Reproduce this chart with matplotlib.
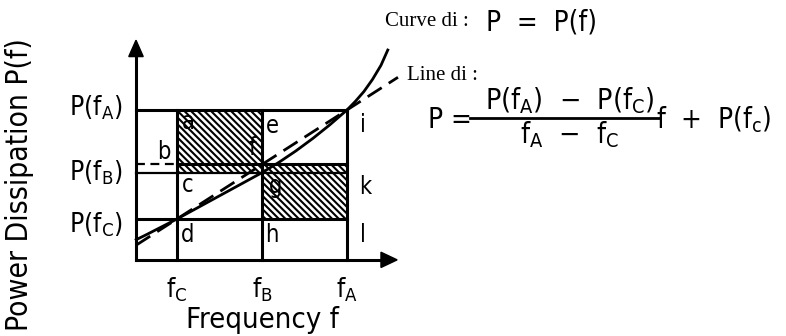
import matplotlib
matplotlib.use("Agg")
import matplotlib.pyplot as plt
from matplotlib.patches import Rectangle, Polygon
from matplotlib.lines import Line2D

# ---- data (diagram units) ----
freq_names = ["C", "B", "A"]
freq_pos = [1.0, 2.0, 3.0]           # fC, fB, fA
power_names = ["C", "B", "A"]
power_pos = [1.0, 1.85, 3.0]         # P(fC), P(fB), P(fA)
line_at_fB = 2.0                      # value of line di at fB
curve_f = [0.52, 0.65, 0.8, 1.0, 1.2, 1.4, 1.6, 1.8, 2.0, 2.2, 2.4, 2.6, 2.8, 3.0,
           3.1, 3.2, 3.3, 3.4, 3.48]
curve_p = [0.62, 0.72, 0.84, 1.0, 1.17, 1.34, 1.51, 1.68, 1.85, 2.04, 2.25, 2.48, 2.73,
           3.0, 3.16, 3.34, 3.56, 3.82, 4.10]
line_f = [0.52, 3.6]
line_p = [0.52, 3.6]
region_letters = ["a", "b", "c", "d", "e", "f", "g", "h", "i", "k", "l"]
letter_f = [1.13, 0.84, 1.13, 1.13, 2.12, 1.89, 2.16, 2.12, 3.19, 3.21, 3.19]
letter_p = [2.78, 2.23, 1.62, 0.71, 2.71, 2.30, 1.60, 0.71, 2.72, 1.59, 0.71]

W, H = 786, 336
SANS = ["DejaVu Sans"]
SERIF = ["Liberation Serif", "DejaVu Serif"]
ST = "condensed"
plt.rcParams["mathtext.fontset"] = "custom"
plt.rcParams["hatch.linewidth"] = 1.5

fig = plt.figure(figsize=(W / 100, H / 100), dpi=100)
ax = fig.add_axes([0, 0, 1, 1])
ax.set_xlim(-1.082, 8.165)
ax.set_ylim(-1.147, 5.018)
ax.axis("off")

x0, y0 = 0.518, 0.25
fC, fB, fA = freq_pos
PC, PB, PA = power_pos
lw = 2.2

# hatched regions
hatch = "\\\\\\\\\\"
for (xa, ya, w, h) in [(fC, line_at_fB, fB - fC, PA - line_at_fB),
                       (fC, PB, fA - fC, line_at_fB - PB),
                       (fB, PC, fA - fB, PB - PC)]:
    ax.add_patch(Rectangle((xa, ya), w, h, facecolor="white", edgecolor="black",
                           hatch=hatch, linewidth=0, zorder=1))

# grid lines
for p in [PA, PC]:
    ax.plot([x0, fA], [p, p], color="black", lw=lw, zorder=3)
ax.plot([x0, fA], [PB, PB], color="black", lw=1.6, zorder=3)
ax.plot([fC, fA], [line_at_fB, line_at_fB], color="black", lw=lw, zorder=3)
ax.plot([x0, fC], [line_at_fB, line_at_fB], color="black", lw=1.6, zorder=3,
        dashes=(4, 2.5))
for f in freq_pos:
    ax.plot([f, f], [y0, PA], color="black", lw=lw, zorder=3)

# axes with arrows
ax.plot([x0, x0], [y0, 4.1], color="black", lw=lw, zorder=4)
ax.plot([x0, 3.45], [y0, y0], color="black", lw=lw, zorder=4)
ax.add_patch(Polygon([[x0, 4.28], [x0 - 0.085, 3.98], [x0 + 0.085, 3.98]],
                     closed=True, color="black", zorder=4))
ax.add_patch(Polygon([[3.59, y0], [3.40, y0 + 0.14], [3.40, y0 - 0.14]],
                     closed=True, color="black", zorder=4))

# curve and dashed line
ax.plot(curve_f, curve_p, color="black", lw=2.0, zorder=5, solid_joinstyle="round")
ax.plot(line_f, line_p, color="black", lw=2.0, zorder=5, dashes=(6, 3))

# region letters
for s, xf, yp in zip(region_letters, letter_f, letter_p):
    ax.text(xf, yp, s, fontsize=17, family=SANS, fontstretch=ST,
            ha="center", va="center", zorder=6)

# tick labels
for n, f in zip(freq_names, freq_pos):
    ax.text(f, -0.30, r"f$\mathregular{_{%s}}$" % n, fontsize=19, family=SANS,
            fontstretch=ST, ha="center", va="center")
for n, p, dy in zip(power_names, power_pos, [-0.10, 0.0, 0.05]):
    ax.text(0.365, p + dy, r"P(f$\mathregular{_{%s}}$)" % n, fontsize=19, family=SANS,
            fontstretch=ST, ha="right", va="center")

def fx(px):
    return px / W

def fy(py):
    return 1 - py / H

fig.text(fx(262), fy(320), "Frequency f", fontsize=21, family=SANS, fontstretch=ST,
         ha="center", va="center")
fig.text(fx(20), fy(185), "Power Dissipation P(f)", fontsize=21.5, family=SANS,
         fontstretch=ST, rotation=90, ha="center", va="center")

# right-side annotations
fig.text(fx(385), fy(22), "Curve di :", fontsize=15, family=SERIF, ha="left", va="center")
fig.text(fx(486), fy(22), "P  =  P(f)", fontsize=20, family=SANS, fontstretch=ST,
         ha="left", va="center")
fig.text(fx(407), fy(76), "Line di :", fontsize=15, family=SERIF, ha="left", va="center")
fig.text(fx(428), fy(120), "P =", fontsize=20, family=SANS, fontstretch=ST,
         ha="left", va="center")
fig.text(fx(570), fy(101), r"P(f$\mathregular{_A}$)  −  P(f$\mathregular{_C}$)",
         fontsize=20.5, family=SANS, fontstretch=ST, ha="center", va="center")
fig.add_artist(Line2D([fx(470), fx(660)], [fy(118), fy(118)], color="black", lw=2.0,
                      transform=fig.transFigure))
fig.text(fx(570), fy(135), r"f$\mathregular{_A}$  −  f$\mathregular{_C}$",
         fontsize=20.5, family=SANS, fontstretch=ST, ha="center", va="center")
fig.text(fx(656), fy(120), r"f  +  P(f$\mathregular{_c}$)", fontsize=20, family=SANS,
         fontstretch=ST, ha="left", va="center")

fig.savefig("out.png", dpi=100)
